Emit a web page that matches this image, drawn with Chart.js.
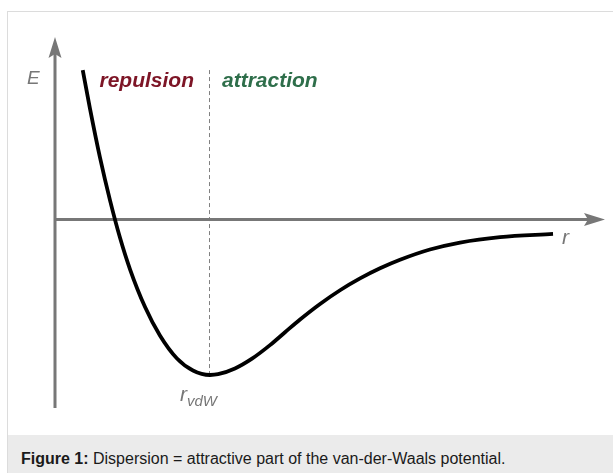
<!DOCTYPE html>
<html>
<head>
<meta charset="utf-8">
<script src="https://cdn.jsdelivr.net/npm/chart.js@4/dist/chart.umd.min.js"></script>
<style>
  html, body { margin: 0; padding: 0; background: #fff; }
  #wrap { position: relative; width: 613px; height: 473px; overflow: hidden; }
  #c { position: absolute; left: 0; top: 0; }
  #frame { position: absolute; left: 7px; top: 11px; width: 620px; height: 480px;
           border-top: 1px solid #dcdcdc; border-left: 1px solid #dcdcdc; }
  #cap { position: absolute; left: 8px; top: 435px; width: 605px; height: 38px;
         background: #ebebeb; font-family: "Liberation Sans", Arial, sans-serif;
         font-size: 16px; color: #1a1a1a; line-height: 20px; padding: 14px 0 0 13px;
         box-sizing: border-box; white-space: nowrap; }
  #cap b { font-weight: bold; }
</style>
</head>
<body>
<div id="wrap">
  <div id="frame"></div>
  <canvas id="c" width="613" height="473"></canvas>
  <div id="cap"><b>Figure 1:</b> Dispersion = attractive part of the van-der-Waals potential.</div>
</div>
<script>
// distance r in units of r_vdW, energy E in units of the well depth
const rValues = [0.179, 0.226, 0.290, 0.355, 0.419, 0.484, 0.581, 0.677, 0.787, 0.890, 1.000,
                 1.052, 1.161, 1.271, 1.387, 1.484, 1.581, 1.710, 1.839, 1.968, 2.097,
                 2.226, 2.419, 2.613, 2.871, 3.213];
const eValues = [0.961, 0.711, 0.399, 0.123, -0.116, -0.320, -0.563, -0.746, -0.894, -0.971, -1.000,
                 -0.995, -0.958, -0.895, -0.808, -0.725, -0.643, -0.543, -0.455, -0.379, -0.314,
                 -0.259, -0.193, -0.148, -0.113, -0.093];
const rVdW = 1.0;
const labels = { e: "E", r: "r", rep: "repulsion", att: "attraction", rv: "r", rvSub: "vdW" };

const points = rValues.map((r, i) => ({ x: r, y: eValues[i] }));
const FONT = '"Liberation Sans", Arial, sans-serif';

function arrowHead(ctx, tipX, tipY, dir) {
  const L = 21, W = 6.5, notch = 4;
  ctx.beginPath();
  if (dir === 'up') {
    ctx.moveTo(tipX, tipY);
    ctx.lineTo(tipX + W, tipY + L);
    ctx.lineTo(tipX, tipY + L - notch);
    ctx.lineTo(tipX - W, tipY + L);
  } else {
    ctx.moveTo(tipX, tipY);
    ctx.lineTo(tipX - L, tipY - W);
    ctx.lineTo(tipX - L + notch, tipY);
    ctx.lineTo(tipX - L, tipY + W);
  }
  ctx.closePath();
  ctx.fill();
}

const decor = {
  id: 'decor',
  beforeDatasetsDraw(chart) {
    const { ctx, scales: { x, y } } = chart;
    const x0 = x.getPixelForValue(0), y0 = y.getPixelForValue(0);
    ctx.save();
    const xv = x.getPixelForValue(rVdW);
    ctx.strokeStyle = '#808080';
    ctx.lineWidth = 1;
    ctx.setLineDash([4, 3]);
    ctx.beginPath();
    ctx.moveTo(Math.round(xv) - 0.5, y.getPixelForValue(eValues[0]));
    ctx.lineTo(Math.round(xv) - 0.5, y.getPixelForValue(-1));
    ctx.stroke();
    ctx.setLineDash([]);
    ctx.strokeStyle = '#777';
    ctx.fillStyle = '#777';
    ctx.lineWidth = 3;
    ctx.beginPath();
    ctx.moveTo(x0, y.bottom);
    ctx.lineTo(x0, y.top + 12);
    ctx.moveTo(x0, y0);
    ctx.lineTo(x.right - 12, y0);
    ctx.stroke();
    arrowHead(ctx, x0, y.top, 'up');
    arrowHead(ctx, x.right, y0, 'right');
    ctx.restore();
  },
  afterDatasetsDraw(chart) {
    const { ctx, scales: { x, y } } = chart;
    const xv = x.getPixelForValue(rVdW);
    const y0 = y.getPixelForValue(0);
    ctx.save();
    ctx.textBaseline = 'alphabetic';
    ctx.textAlign = 'left';
    ctx.fillStyle = '#777';
    ctx.font = 'italic 19px ' + FONT;
    ctx.fillText(labels.e, 27, 84);
    ctx.font = 'italic 21px ' + FONT;
    ctx.fillText(labels.r, x.getPixelForValue(rValues[rValues.length - 1]) + 9, y0 + 24);
    ctx.font = 'italic 21px ' + FONT;
    ctx.fillText(labels.rv, xv - 30, 401);
    ctx.font = 'italic 15px ' + FONT;
    ctx.fillText(labels.rvSub, xv - 23, 406);
    ctx.font = 'bold italic 21px ' + FONT;
    ctx.fillStyle = '#7d1526';
    ctx.textAlign = 'right';
    ctx.fillText(labels.rep, xv - 16, 87);
    ctx.fillStyle = '#2e6e4a';
    ctx.textAlign = 'left';
    ctx.fillText(labels.att, xv + 12, 87);
    ctx.restore();
  }
};

new Chart(document.getElementById('c'), {
  type: 'scatter',
  data: {
    datasets: [{
      data: points,
      showLine: true,
      borderColor: '#000',
      borderWidth: 3.8,
      pointRadius: 0,
      pointHoverRadius: 0,
      cubicInterpolationMode: 'monotone',
      borderCapStyle: 'butt',
      fill: false
    }]
  },
  options: {
    responsive: false,
    animation: false,
    events: [],
    layout: { padding: { left: 55, right: 8, top: 37, bottom: 65 } },
    plugins: { legend: { display: false }, tooltip: { enabled: false } },
    scales: {
      x: { type: 'linear', display: false, min: 0, max: 550 / 155 },
      y: { type: 'linear', display: false, min: -188.5 / 155.5, max: 182.5 / 155.5 }
    }
  },
  plugins: [decor]
});
</script>
</body>
</html>
